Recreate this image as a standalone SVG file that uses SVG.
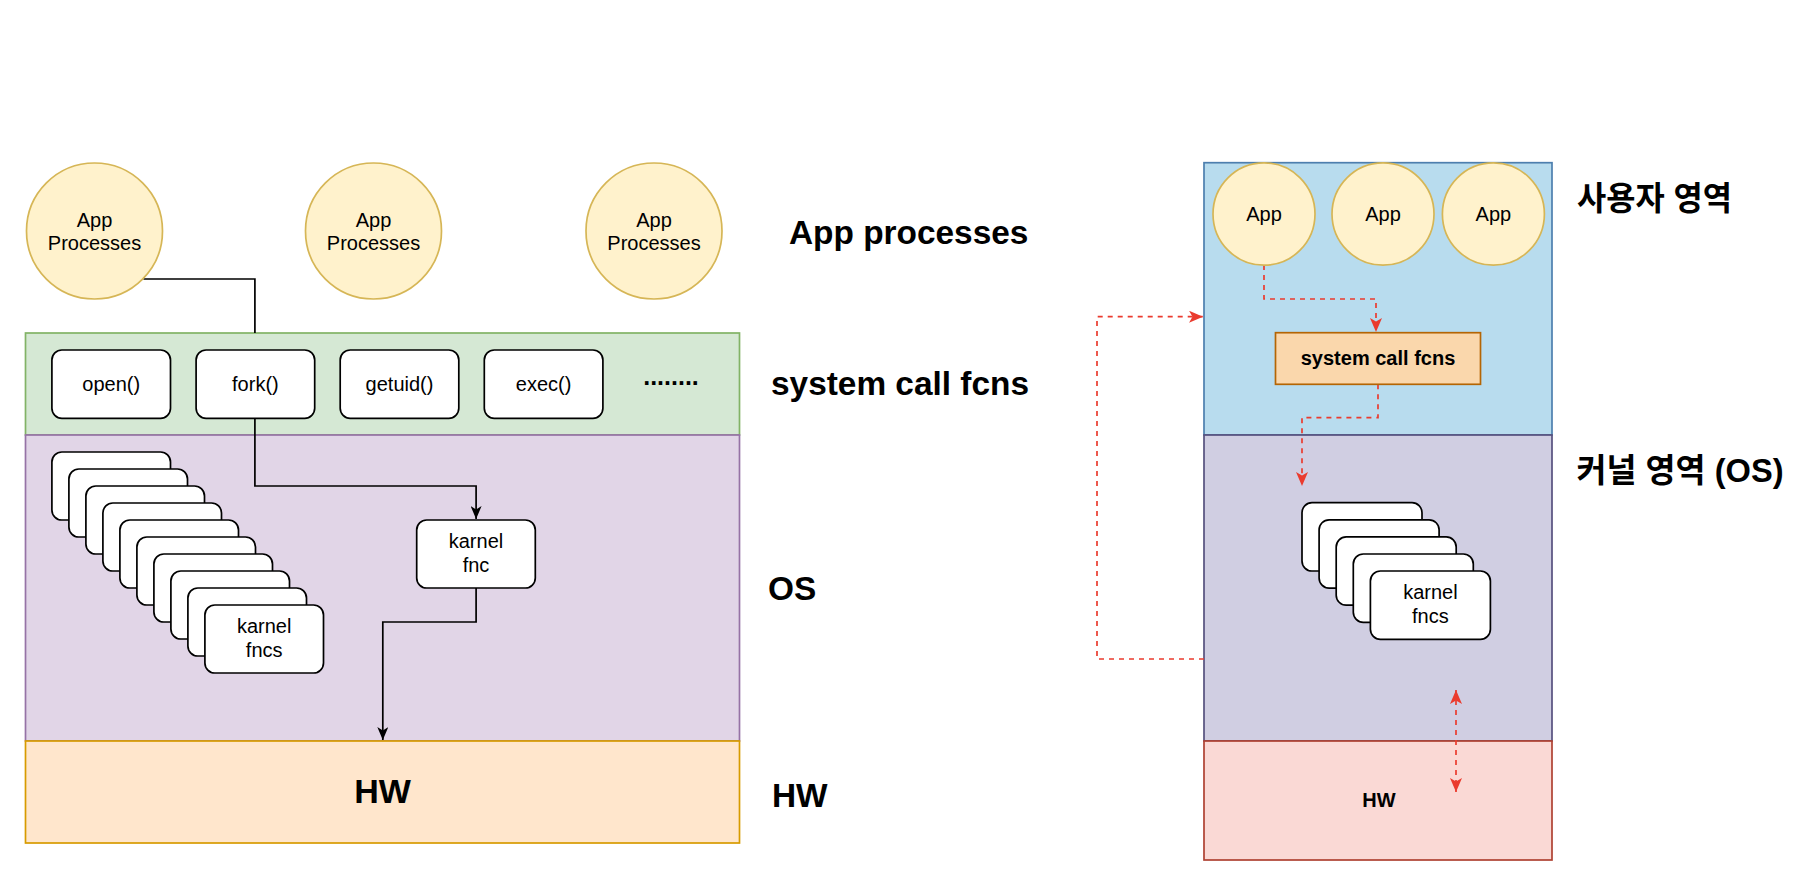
<svg xmlns="http://www.w3.org/2000/svg" width="1820" height="886" viewBox="0 0 1820 886">
<style>
text{font-family:"Liberation Sans",Arial,"Noto Sans CJK KR",sans-serif;fill:#000}
.t20{font-size:20px;text-anchor:middle}
.lbl{font-size:33.4px;font-weight:bold}
.box{fill:#fff;stroke:#000;stroke-width:1.7}
.app{fill:#fff2cc;stroke:#d6b656;stroke-width:1.7}
.blk{fill:none;stroke:#000;stroke-width:1.7}
.red{fill:none;stroke:#ea3b2e;stroke-width:1.7;stroke-dasharray:5 5}
</style>
<defs>
<marker id="ab" viewBox="0 0 13 11" refX="13" refY="5.5" markerWidth="13" markerHeight="11" markerUnits="userSpaceOnUse" orient="auto"><path d="M0,0 L13,5.5 L0,11 L3.5,5.5 Z" fill="#000"/></marker>
<marker id="ar" viewBox="0 0 14 12" refX="14" refY="6" markerWidth="14" markerHeight="12" markerUnits="userSpaceOnUse" orient="auto-start-reverse"><path d="M0,0 L14,6 L0,12 L3.5,6 Z" fill="#ea3b2e"/></marker>
<g id="kb"><rect class="box" width="118.6" height="68" rx="10"/></g>
</defs>
<rect width="1820" height="886" fill="#fff"/>

<!-- left layers -->
<g id="left-layers">
<rect id="layer-syscall" x="25.5" y="333" width="714" height="102" fill="#d5e8d4" stroke="#82b366" stroke-width="1.7"/>
<rect id="layer-os" x="25.5" y="435" width="714" height="306" fill="#e1d5e7" stroke="#9673a6" stroke-width="1.7"/>
<rect id="layer-hw" x="25.5" y="741" width="714" height="102" fill="#ffe6cc" stroke="#d79b00" stroke-width="1.7"/>
<text x="382.5" y="803" text-anchor="middle" style="font-size:34px;font-weight:bold">HW</text>
</g>

<!-- right layers -->
<g id="right-layers">
<rect id="layer-user" x="1204" y="162.7" width="348" height="272.3" fill="#b8dcee" stroke="#4d7fae" stroke-width="1.7"/>
<rect id="layer-kernel" x="1204" y="435" width="348" height="306" fill="#d0cee2" stroke="#56517e" stroke-width="1.7"/>
<rect id="layer-hw2" x="1204" y="741" width="348" height="119" fill="#fad9d5" stroke="#ae4132" stroke-width="1.7"/>
<text x="1379" y="807" text-anchor="middle" style="font-size:20px;font-weight:bold">HW</text>
</g>

<!-- connectors -->
<g id="connectors">
<polyline class="blk" points="143.4,279 254.9,279 254.9,333"/>
<polyline class="blk" points="254.9,418.3 254.9,486 476.1,486 476.1,519" marker-end="url(#ab)"/>
<polyline class="blk" points="476.1,588 476.1,622 382.8,622 382.8,740" marker-end="url(#ab)"/>
<polyline class="red" points="1264,265 1264,299 1376,299 1376,332" marker-end="url(#ar)"/>
<polyline class="red" points="1378,384.3 1378,417.7 1302,417.7 1302,486" marker-end="url(#ar)"/>
<polyline class="red" points="1204,659 1097,659 1097,316.7 1203,316.7" marker-end="url(#ar)"/>
<line class="red" x1="1456" y1="690" x2="1456" y2="792" marker-start="url(#ar)" marker-end="url(#ar)"/>
</g>

<!-- app processes left -->
<g id="app1"><circle class="app" cx="94.5" cy="231" r="68"/><text class="t20" x="94.5" y="226.5">App</text><text class="t20" x="94.5" y="250">Processes</text></g>
<g id="app2"><circle class="app" cx="373.5" cy="231" r="68"/><text class="t20" x="373.5" y="226.5">App</text><text class="t20" x="373.5" y="250">Processes</text></g>
<g id="app3"><circle class="app" cx="654" cy="231" r="68"/><text class="t20" x="654" y="226.5">App</text><text class="t20" x="654" y="250">Processes</text></g>

<!-- system calls -->
<g id="sc-open"><rect class="box" x="51.9" y="350" width="118.6" height="68.3" rx="10"/><text class="t20" x="111.2" y="391">open()</text></g>
<g id="sc-fork"><rect class="box" x="196.1" y="350" width="118.6" height="68.3" rx="10"/><text class="t20" x="255.4" y="391">fork()</text></g>
<g id="sc-getuid"><rect class="box" x="340.2" y="350" width="118.6" height="68.3" rx="10"/><text class="t20" x="399.5" y="391">getuid()</text></g>
<g id="sc-exec"><rect class="box" x="484.3" y="350" width="118.6" height="68.3" rx="10"/><text class="t20" x="543.6" y="391">exec()</text></g>
<g id="sc-more"><text x="671" y="385" text-anchor="middle" style="font-size:25px;font-weight:bold">........</text></g>

<!-- kernel fnc -->
<g id="kernel-fnc"><rect class="box" x="416.7" y="520" width="118.6" height="68" rx="10"/><text class="t20" x="476" y="548">karnel</text><text class="t20" x="476" y="572">fnc</text></g>

<!-- kernel fncs stack left -->
<g id="kernel-fncs-left">
<use href="#kb" x="51.9" y="452"/>
<use href="#kb" x="68.9" y="469"/>
<use href="#kb" x="85.9" y="486"/>
<use href="#kb" x="102.9" y="503"/>
<use href="#kb" x="119.9" y="520"/>
<use href="#kb" x="136.9" y="537"/>
<use href="#kb" x="153.9" y="554"/>
<use href="#kb" x="170.9" y="571"/>
<use href="#kb" x="187.9" y="588"/>
<use href="#kb" x="204.9" y="605"/>
<text class="t20" x="264.2" y="633">karnel</text><text class="t20" x="264.2" y="657">fncs</text>
</g>

<!-- left labels -->
<g id="labels-left">
<text class="lbl" x="789" y="244">App processes</text>
<text class="lbl" x="771" y="395">system call fcns</text>
<text class="lbl" x="768" y="600">OS</text>
<text class="lbl" x="772" y="807">HW</text>
</g>

<!-- right apps -->
<g id="rapp1"><ellipse class="app" cx="1264" cy="214" rx="51" ry="51.2"/><text class="t20" x="1264" y="221">App</text></g>
<g id="rapp2"><ellipse class="app" cx="1383" cy="214" rx="51" ry="51.2"/><text class="t20" x="1383" y="221">App</text></g>
<g id="rapp3"><ellipse class="app" cx="1493.4" cy="214" rx="51" ry="51.2"/><text class="t20" x="1493.4" y="221">App</text></g>

<g id="syscall-fcns"><rect x="1275.5" y="332.7" width="205" height="51.6" fill="#fad7ac" stroke="#b46504" stroke-width="1.7"/><text x="1378" y="365" text-anchor="middle" style="font-size:20px;font-weight:bold">system call fcns</text></g>

<g id="kernel-fncs-right">
<rect class="box" x="1302" y="502.7" width="120" height="68.3" rx="10"/>
<rect class="box" x="1319.1" y="519.8" width="120" height="68.3" rx="10"/>
<rect class="box" x="1336.2" y="536.9" width="120" height="68.3" rx="10"/>
<rect class="box" x="1353.3" y="554" width="120" height="68.3" rx="10"/>
<rect class="box" x="1370.4" y="571" width="120" height="68.3" rx="10"/>
<text class="t20" x="1430.4" y="598.5">karnel</text><text class="t20" x="1430.4" y="623">fncs</text>
</g>

<g id="labels-right">
<text class="lbl" x="1577" y="210" textLength="155" lengthAdjust="spacingAndGlyphs">사용자 영역</text>
<text class="lbl" x="1576.5" y="482" textLength="207" lengthAdjust="spacingAndGlyphs">커널 영역 (OS)</text>
</g>
</svg>
